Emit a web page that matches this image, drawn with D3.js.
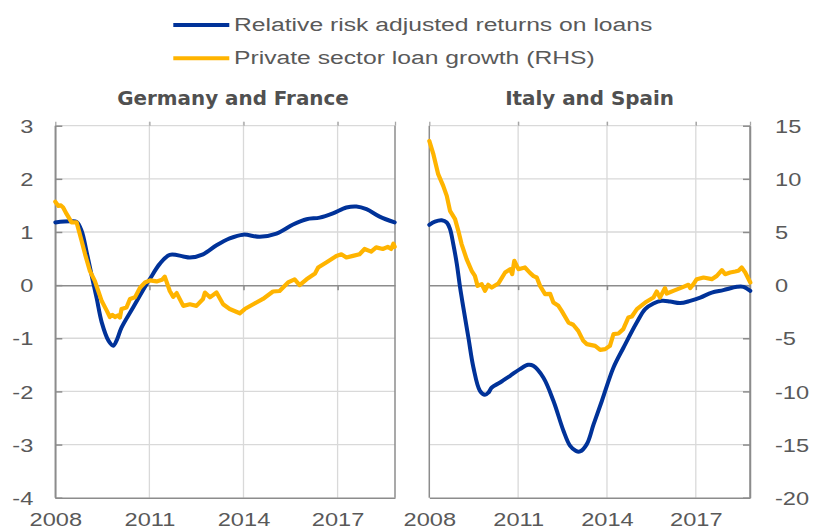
<!DOCTYPE html>
<html>
<head>
<meta charset="utf-8">
<script src="https://cdn.jsdelivr.net/npm/d3@7"></script>
<style>
  html, body { margin: 0; padding: 0; background: #fff; }
  svg { display: block; }
</style>
</head>
<body>
<svg id="chart" width="814" height="528"></svg>
<script>
// ---------------- DATA ----------------
const panelTitles = ["Germany and France", "Italy and Spain"];
const seriesNames = ["Relative risk adjusted returns on loans", "Private sector loan growth (RHS)"];
const xTickYears = [2008, 2011, 2014, 2017];
const leftTicks = [-4, -3, -2, -1, 0, 1, 2, 3];
const rightTicks = [-20, -15, -10, -5, 0, 5, 10, 15];

// [years after Jan 2008, value]  Germany & France, relative risk adjusted returns (LHS)
const gfReturns = [
  [0.0, 1.18], [0.47, 1.20], [0.68, 1.19], [0.84, 1.02], [1.0, 0.62], [1.16, 0.18],
  [1.32, -0.25], [1.48, -0.70], [1.70, -1.05], [1.85, -1.14], [1.97, -1.02], [2.11, -0.80],
  [2.48, -0.42], [2.89, 0.0], [3.02, 0.12], [3.33, 0.40], [3.65, 0.57], [4.08, 0.54],
  [4.29, 0.52], [4.71, 0.58], [5.14, 0.75], [5.56, 0.88], [5.99, 0.95], [6.52, 0.91],
  [7.05, 0.97], [7.58, 1.14], [8.01, 1.24], [8.43, 1.27], [8.85, 1.35], [9.28, 1.46],
  [9.60, 1.48], [9.92, 1.43], [10.34, 1.29], [10.82, 1.18]
];
// Germany & France, private sector loan growth (RHS, %)
const gfLoans = [
  [0.0, 7.85], [0.1, 7.45], [0.18, 7.5], [0.25, 7.3], [0.36, 6.7], [0.52, 5.9], [0.68, 5.9],
  [0.84, 4.15], [0.95, 2.9], [1.1, 1.35], [1.26, 0.4], [1.37, -0.55], [1.48, -1.5], [1.64, -2.4],
  [1.74, -3.0], [1.82, -2.8], [1.90, -3.0], [2.0, -2.85], [2.06, -3.05], [2.11, -2.25],
  [2.27, -2.1], [2.38, -1.3], [2.54, -1.15], [2.70, -0.25], [2.86, 0.25], [3.02, 0.45],
  [3.23, 0.35], [3.40, 0.5], [3.49, 0.8], [3.65, -0.55], [3.76, -1.1], [3.87, -0.75],
  [4.08, -1.95], [4.29, -1.8], [4.50, -1.95], [4.71, -1.3], [4.77, -0.7], [4.93, -1.15],
  [5.14, -0.7], [5.35, -1.8], [5.56, -2.25], [5.88, -2.65], [6.04, -2.25], [6.31, -1.8],
  [6.62, -1.3], [6.94, -0.6], [7.15, -0.55], [7.42, 0.25], [7.63, 0.55], [7.79, 0.0],
  [8.01, 0.55], [8.28, 1.1], [8.38, 1.65], [8.65, 2.15], [8.96, 2.75], [9.12, 2.9],
  [9.28, 2.6], [9.49, 2.75], [9.70, 2.9], [9.86, 3.4], [10.07, 3.15], [10.23, 3.55],
  [10.44, 3.4], [10.60, 3.6], [10.71, 3.4], [10.78, 3.9], [10.82, 3.6]
];
// Italy & Spain, relative risk adjusted returns (plotted on RHS units)
const isReturns = [
  [0.0, 5.67], [0.19, 5.98], [0.42, 6.11], [0.59, 5.89], [0.70, 5.27], [0.81, 3.86],
  [0.93, 1.98], [1.04, -0.23], [1.15, -2.11], [1.32, -4.93], [1.49, -7.75], [1.71, -9.94],
  [1.88, -10.32], [2.0, -10.1], [2.11, -9.63], [2.39, -9.16], [2.73, -8.53], [3.06, -7.9],
  [3.34, -7.5], [3.51, -7.59], [3.85, -8.69], [4.19, -10.88], [4.53, -13.7], [4.75, -15.1],
  [4.95, -15.6], [5.09, -15.65], [5.32, -14.96], [5.55, -13.08], [5.83, -10.88], [6.22, -7.75],
  [6.56, -5.87], [7.01, -3.5], [7.29, -2.26], [7.57, -1.73], [7.85, -1.48], [8.13, -1.54],
  [8.47, -1.69], [8.81, -1.48], [9.15, -1.17], [9.54, -0.70], [9.93, -0.47], [10.39, -0.16],
  [10.61, -0.16], [10.84, -0.54]
];
// Italy & Spain, private sector loan growth (RHS, %)
const isLoans = [
  [0.0, 13.57], [0.14, 12.3], [0.30, 10.44], [0.47, 9.34], [0.59, 8.40], [0.70, 6.99],
  [0.87, 6.21], [0.98, 5.11], [1.09, 3.86], [1.26, 2.45], [1.43, 1.35], [1.54, 0.87],
  [1.63, -0.07], [1.77, 0.09], [1.88, -0.54], [1.99, 0.03], [2.11, -0.23], [2.33, 0.15],
  [2.56, 1.19], [2.73, 1.5], [2.80, 1.03], [2.87, 2.29], [3.01, 1.5], [3.23, 1.66],
  [3.40, 1.15], [3.52, 0.85], [3.63, 0.72], [3.74, -0.07], [3.91, -0.85], [4.08, -0.82],
  [4.19, -1.64], [4.36, -1.95], [4.47, -2.42], [4.70, -3.52], [4.86, -3.73], [5.03, -4.30],
  [5.20, -5.24], [5.32, -5.55], [5.60, -5.71], [5.77, -6.09], [5.94, -6.02], [6.10, -5.71],
  [6.22, -4.61], [6.39, -4.55], [6.55, -4.14], [6.72, -3.05], [6.84, -2.95], [7.01, -2.26],
  [7.29, -1.64], [7.57, -1.17], [7.68, -0.60], [7.79, -1.17], [7.96, -0.28], [8.02, -0.79],
  [8.24, -0.54], [8.58, -0.16], [8.75, 0.03], [8.81, -0.28], [8.92, 0.09], [9.03, 0.56],
  [9.26, 0.72], [9.54, 0.56], [9.71, 0.87], [9.88, 1.41], [9.99, 1.03], [10.16, 1.19],
  [10.33, 1.28], [10.44, 1.35], [10.55, 1.66], [10.67, 1.19], [10.84, 0.25]
];
const startYear = 2008;
const endYear = 2018.83;

// ---------------- STYLE ----------------
const BLUE = "#003299", YELLOW = "#ffb400";
const GRID = "#d9d9d9", AXIS = "#8c8c8c", TEXT = "#595959";
const SANS = "'Liberation Sans', Arial, sans-serif";
const TICK_FS = 18.6, TICK_SX = 1.27;
const LEG_FS = 19, LEG_SX = 1.3;
const fmt = d => String(d);   // plain hyphen-minus, as in the reference

const svg = d3.select("#chart");
const plotTop = 125.7, plotBottom = 497.7;

const yL = d3.scaleLinear().domain([-4, 3]).range([plotBottom, plotTop]);
const yR = d3.scaleLinear().domain([-20, 15]).range([plotBottom, plotTop]);

const panels = [
  { x0: 55.3, x1: 395, title: panelTitles[0], titleX: 233, ret: gfReturns, retScale: yL, loans: gfLoans },
  { x0: 429.3, x1: 750, title: panelTitles[1], titleX: 589.5, ret: isReturns, retScale: yR, loans: isLoans }
];

panels.forEach((p, i) => {
  const x = d3.scaleLinear().domain([startYear, endYear]).range([p.x0, p.x1]);
  const g = svg.append("g");

  // horizontal gridlines
  g.selectAll("line.hg").data(leftTicks.filter(v => v !== 0 && v !== -4)).join("line")
    .attr("class", "hg")
    .attr("x1", p.x0).attr("x2", p.x1)
    .attr("y1", d => yL(d)).attr("y2", d => yL(d))
    .attr("stroke", GRID).attr("stroke-width", 1.3);
  // vertical gridlines
  g.selectAll("line.vg").data(xTickYears.slice(1)).join("line")
    .attr("class", "vg")
    .attr("x1", d => x(d)).attr("x2", d => x(d))
    .attr("y1", plotTop - 4).attr("y2", plotBottom)
    .attr("stroke", GRID).attr("stroke-width", 1.3);

  // top small ticks
  const topAx = g.append("g").attr("transform", `translate(0,${plotTop})`)
    .call(d3.axisTop(x).tickValues(xTickYears.concat([endYear])).tickSize(4).tickSizeOuter(0).tickFormat(""));
  topAx.select(".domain").remove();
  topAx.selectAll("line").attr("stroke", "#a6a6a6").attr("stroke-width", 1.3);

  // zero line with small downward ticks
  const zeroAx = g.append("g").attr("transform", `translate(0,${yL(0)})`)
    .call(d3.axisBottom(x).tickValues(xTickYears.slice(1)).tickSize(5).tickSizeOuter(0).tickFormat(""));
  zeroAx.selectAll("path,line").attr("stroke", AXIS).attr("stroke-width", 1.5);

  // bottom axis with year labels
  const botAx = g.append("g").attr("transform", `translate(0,${plotBottom})`)
    .call(d3.axisBottom(x).tickValues(xTickYears).tickSize(0).tickSizeOuter(0).tickFormat(fmt));
  botAx.select(".domain").attr("stroke", AXIS).attr("stroke-width", 1.5);
  botAx.selectAll("text")
    .attr("y", null).attr("dy", null)
    .attr("transform", `translate(0,28.6) scale(${TICK_SX},1)`)
    .attr("fill", TEXT).attr("font-family", SANS).attr("font-size", TICK_FS);

  // left & right frame lines
  g.append("line").attr("x1", p.x0).attr("x2", p.x0).attr("y1", plotTop).attr("y2", plotBottom)
    .attr("stroke", AXIS).attr("stroke-width", 1.5);
  g.append("line").attr("x1", p.x1).attr("x2", p.x1).attr("y1", plotTop).attr("y2", plotBottom)
    .attr("stroke", AXIS).attr("stroke-width", 1.5);

  if (i === 0) {
    const lAx = g.append("g").attr("transform", `translate(${p.x0},0)`)
      .call(d3.axisLeft(yL).tickValues(leftTicks).tickSizeInner(-7).tickSizeOuter(0).tickFormat(fmt));
    lAx.selectAll("path,line").attr("stroke", AXIS).attr("stroke-width", 1.5);
    lAx.selectAll("text")
      .attr("x", null).attr("dy", "0.36em")
      .attr("transform", `translate(-22,0) scale(${TICK_SX},1)`)
      .attr("fill", TEXT).attr("font-family", SANS).attr("font-size", TICK_FS);
  } else {
    const rAx = g.append("g").attr("transform", `translate(${p.x1},0)`)
      .call(d3.axisRight(yR).tickValues(rightTicks).tickSizeInner(-7).tickSizeOuter(0).tickFormat(fmt));
    rAx.selectAll("path,line").attr("stroke", AXIS).attr("stroke-width", 1.5);
    rAx.selectAll("text")
      .attr("x", null).attr("dy", "0.36em")
      .attr("transform", `translate(25,0) scale(${TICK_SX},1)`)
      .attr("fill", TEXT).attr("font-family", SANS).attr("font-size", TICK_FS);
  }

  // title
  svg.append("text").attr("x", p.titleX).attr("y", 104.7)
    .attr("text-anchor", "middle").attr("fill", "#505050")
    .attr("font-family", "'DejaVu Sans', Verdana, sans-serif").attr("font-weight", "bold")
    .attr("font-size", 19.9).text(p.title);

  // lines
  const retLine = d3.line()
    .x(d => x(startYear + d[0])).y(d => p.retScale(d[1]))
    .curve(d3.curveCatmullRom.alpha(0.5));
  const loanLine = d3.line()
    .x(d => x(startYear + d[0])).y(d => yR(d[1]))
    .curve(d3.curveLinear);

  g.append("path").datum(p.ret).attr("d", retLine)
    .attr("fill", "none").attr("stroke", BLUE).attr("stroke-width", 4)
    .attr("stroke-linejoin", "round").attr("stroke-linecap", "round");
  g.append("path").datum(p.loans).attr("d", loanLine)
    .attr("fill", "none").attr("stroke", YELLOW).attr("stroke-width", 4.2)
    .attr("stroke-linejoin", "round").attr("stroke-linecap", "round");
});

// legend
const legendColors = [BLUE, YELLOW];
const legY = [25, 58.3];
const leg = svg.append("g");
seriesNames.forEach((name, i) => {
  leg.append("line").attr("x1", 173.3).attr("x2", 229.3).attr("y1", legY[i]).attr("y2", legY[i])
    .attr("stroke", legendColors[i]).attr("stroke-width", 4);
  leg.append("text")
    .attr("transform", `translate(234,${legY[i] + 5.8}) scale(${LEG_SX},1)`)
    .attr("fill", TEXT).attr("font-family", SANS).attr("font-size", LEG_FS)
    .text(name);
});
</script>
</body>
</html>
